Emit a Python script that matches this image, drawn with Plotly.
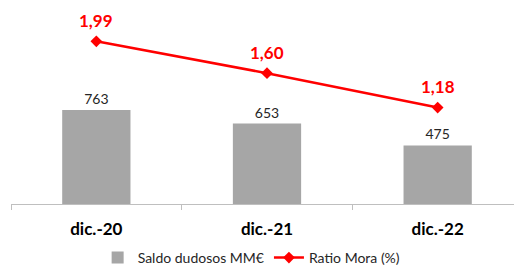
import plotly.graph_objects as go

categories = ["dic.-20", "dic.-21", "dic.-22"]
saldo_dudosos = [763, 653, 475]
ratio_mora = [1.99, 1.60, 1.18]
ratio_labels = ["1,99", "1,60", "1,18"]

FONT = "Lato"

fig = go.Figure()
fig.add_trace(go.Bar(
    x=categories, y=saldo_dudosos, name="Saldo dudosos MM€",
    marker=dict(color="#A6A6A6", line=dict(width=0)),
    text=[str(v) for v in saldo_dudosos], textposition="outside",
    textfont=dict(family=FONT, size=14, color="#262626"),
    cliponaxis=False,
))
fig.add_trace(go.Scatter(
    x=categories, y=ratio_mora, name="Ratio Mora (%)", yaxis="y2",
    mode="lines+markers",
    line=dict(color="#FF0000", width=2.5),
    marker=dict(symbol="diamond", size=9, color="#FF0000"),
    cliponaxis=False,
))
for c, v, lab in zip(categories, ratio_mora, ratio_labels):
    fig.add_annotation(x=c, y=v, xref="x", yref="y2", text="<b>%s</b>" % lab,
                       showarrow=False, yshift=21,
                       font=dict(family=FONT, size=17, color="#FF0000"))

fig.update_layout(
    width=522, height=270,
    margin=dict(l=3, r=7, t=2, b=74),
    paper_bgcolor="white", plot_bgcolor="white",
    bargap=0.6,
    separators=",.",
    showlegend=True,
    legend=dict(orientation="h", x=0.47, xanchor="center", y=-0.278, yanchor="middle",
                font=dict(family=FONT, size=14, color="#262626"),
                itemwidth=30, tracegroupgap=0),
    xaxis=dict(type="category", range=[-0.5, 2.5], showline=True, linecolor="#BFBFBF",
               linewidth=1, ticks="outside", tickson="boundaries", ticklen=5,
               tickcolor="#BFBFBF", ticklabelstandoff=10,
               tickfont=dict(family=FONT, size=17, color="#000000"),
               showgrid=False, zeroline=False),
    yaxis=dict(range=[0, 1575], visible=False, showgrid=False, zeroline=False),
    yaxis2=dict(range=[0, 2.373], overlaying="y", side="right", visible=False,
                showgrid=False, zeroline=False),
)
fig.update_xaxes(tickprefix="<b>", ticksuffix="</b>")

fig.write_html("out.html")
